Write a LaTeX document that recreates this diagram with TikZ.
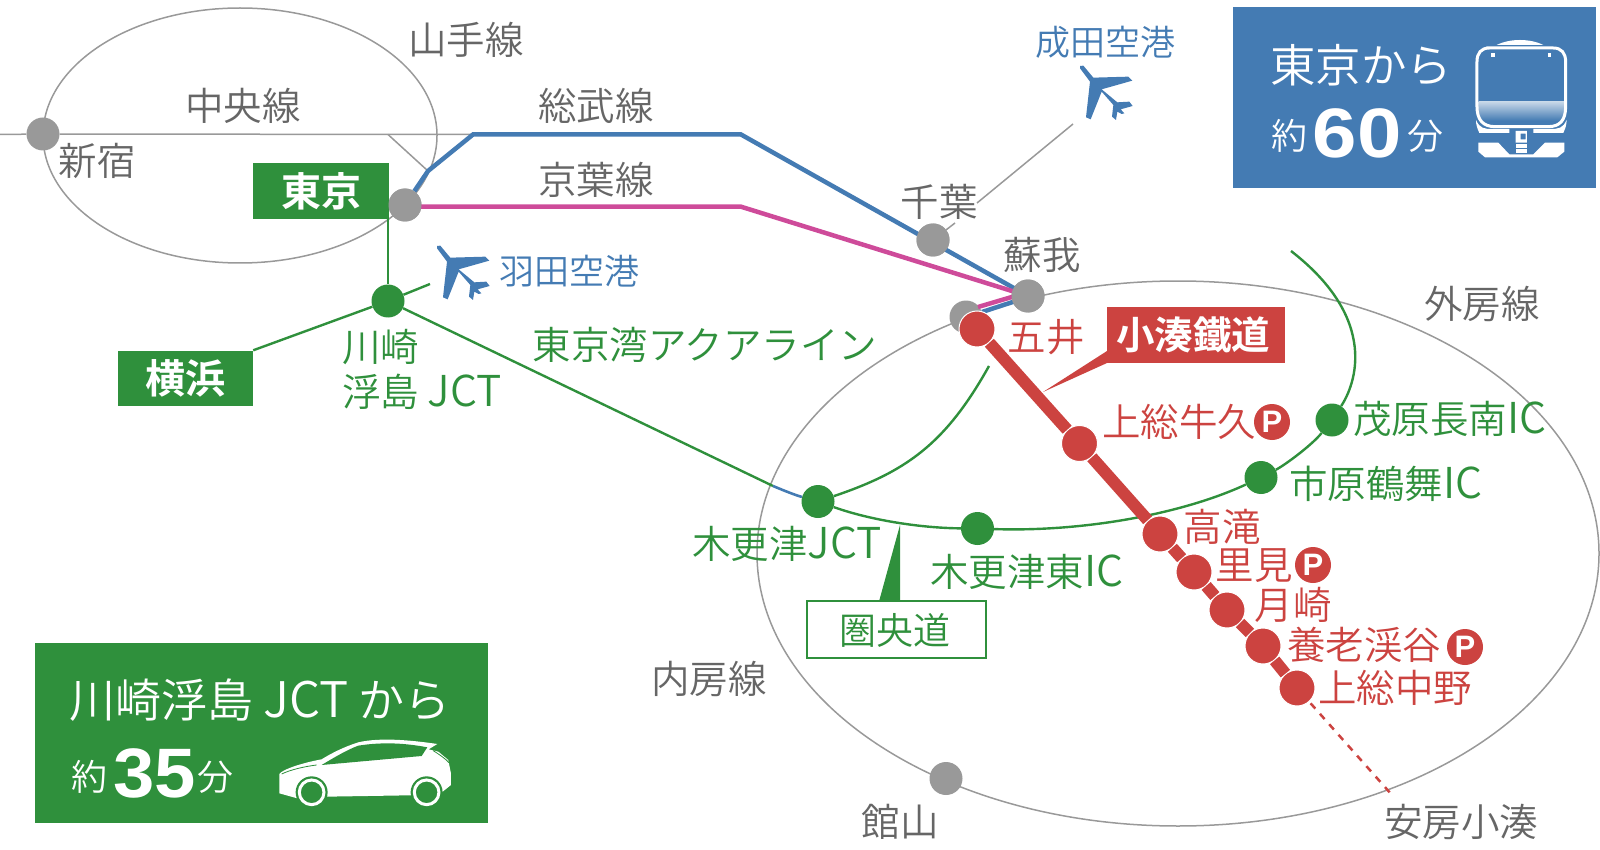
\documentclass[tikz,border=0pt]{standalone}
\usepackage{fontspec}
\newfontfamily\jp{Noto Sans CJK JP DemiLight}[BoldFont={Noto Sans CJK JP Bold}]
\newfontfamily\digits{Liberation Sans}
\newfontfamily\widedigits{Liberation Sans}[FakeStretch=1.14]
\newfontfamily\middigits{Liberation Sans}[FakeStretch=1.06]
\newcommand{\lat}[2][42.5]{{\fontsize{#1}{40}\selectfont #2}}
\definecolor{tgrey}{HTML}{666666}
\definecolor{lgrey}{HTML}{999999}
\definecolor{rblue}{HTML}{447BB3}
\definecolor{rgreen}{HTML}{2F903C}
\definecolor{rred}{HTML}{CC4340}
\definecolor{rpink}{HTML}{CE4B9A}
\tikzset{
  lab/.style={font=\jp\fontsize{38.5}{40}\selectfont,inner sep=0pt,text=tgrey},
  labgreen/.style={lab,text=rgreen},
  labred/.style={lab,text=rred},
  labblue/.style={lab,text=rblue,font=\jp\fontsize{35}{40}\selectfont},
  gstation/.style={circle,fill=lgrey,inner sep=0pt,minimum size=33pt},
  gnstation/.style={circle,fill=rgreen,inner sep=0pt,minimum size=33pt},
  rstation/.style={circle,fill=rred,draw=white,line width=1pt,inner sep=0pt,minimum size=36pt},
  pmark/.style={circle,fill=rred,text=white,inner sep=0pt,minimum size=36pt,font=\digits\bfseries\fontsize{31}{31}\selectfont},
  thin grey/.style={draw=lgrey,line width=1.5pt},
  gline/.style={draw=rgreen,line width=2.4pt},
  tag/.style={fill=rgreen,text=white,inner sep=0pt,font=\jp\bfseries\fontsize{40}{42}\selectfont},
  wtxt/.style={text=white,inner sep=0pt,font=\jp\fontsize{36}{40}\selectfont},
  bignum/.style={text=white,inner sep=0pt,font=\widedigits\bfseries\fontsize{70}{70}\selectfont},
}
\newcommand{\plane}[2]{%
\begin{scope}[shift={(#1,#2)},x=0.3333pt,y=-0.3333pt]
\fill[rblue] (150,78)--(160,77)--(190,113)--(295,110)--(307,122)--(215,148)--(262,187)--(298,185)--(308,198)--(272,208)--(283,220)--(275,222)--(262,215)--(258,240)--(246,230)--(250,195)--(215,155)--(182,238)--(168,232)--(180,125)--(150,85)--cycle;
\end{scope}}
\begin{document}
\begin{tikzpicture}[x=1pt,y=-1pt]
\useasboundingbox (0,0) rectangle (1600,850);
% ellipses
\draw[thin grey] (240,135.5) ellipse [x radius=197pt,y radius=127.5pt];
\draw[thin grey] (1178,553.5) ellipse [x radius=421pt,y radius=272.5pt];
% stations
\node[gstation] (shinjuku) at (43,134) {};
\node[gstation] (tokyo) at (405,205) {};
\node[gstation] (chiba) at (933,240) {};
\node[gstation] (goig) at (966,317) {};
\node[gstation] (tateyama) at (946,778.5) {};
\node[gnstation] (kawasaki) at (388,301) {};
\node[gnstation] (kjct) at (818,501.5) {};
\node[gnstation] (khigashi) at (977.5,528.5) {};
\node[gnstation] (ichihara) at (1261,477.5) {};
\node[gnstation] (mobara) at (1332,420) {};
% boxes
\node[tag,minimum width=136pt,minimum height=56pt] (tokyobox) at (321,191) {東京};
\node[tag,minimum width=135pt,minimum height=55pt] (yokohama) at (185.5,378) {横浜};
% free ends
\coordinate (yamaL) at (0,134.5);
\coordinate (sobuA) at (473,134.5);
\coordinate (sobuB) at (741,134.5);
\coordinate (sobuK) at (428,171);
\coordinate (yamaK) at (388,134.5);
\coordinate (keiyoB) at (741,206.7);
\coordinate (narita) at (1073,124);
\coordinate (naritaB) at (977,203);
\coordinate (chibaStub) at (955,223);
\coordinate (planestub) at (430,284);
\coordinate (aqua) at (773,486);
\coordinate (kenoEnd) at (1291,251);
\coordinate (branchEnd) at (989,366);
% grey thin lines
\draw[thin grey] (yamaL)--(shinjuku)--(sobuA);
\draw[thin grey] (yamaK)--(sobuK);
\draw[thin grey] (chiba)--(chibaStub);
\draw[thin grey] (naritaB)--(narita);
% green lines
\draw[gline] (kawasaki |- tokyobox.south)--(kawasaki);
\draw[gline] (yokohama.north east)--(kawasaki);
\draw[gline] (kawasaki)--(planestub);
\draw[gline] (kawasaki)--(aqua);
\draw[rblue,line width=2.6pt] (aqua) .. controls (785,491) and (795,495) .. (kjct);
\draw[gline] (kjct) .. controls (870,520) and (920,528) .. (khigashi)
  .. controls (1080,532) and (1180,515) .. (ichihara)
  .. controls (1285,465) and (1312,445) .. (mobara)
  .. controls (1355,385) and (1380,320) .. (kenoEnd);
\draw[gline] (kjct) .. controls (905,472) and (945,445) .. (branchEnd);
% Rail lines
\node[gstation] (soga) at (1028,296) {};
\draw[rblue,line width=4.5pt] (tokyo)--(sobuK)--(sobuA)--(sobuB)--(soga.center);
\draw[rpink,line width=4.5pt] (tokyo.center)+(0,1.7)--(keiyoB)--(soga.center);
\draw[rpink,line width=4.5pt] (soga.center)+(-6,-2)--(978,307);
\draw[rblue,line width=4.5pt] (soga.center)+(-6,3)--(982,312);
\node[gstation] at (soga) {};
\node[gstation] at (chiba) {};
\node[gstation] at (tokyo) {};
% Kominato railway
\node[rstation] (goi) at (977,329) {};
\node[rstation] (ushiku) at (1079.5,443.5) {};
\node[rstation] (takataki) at (1160,534) {};
\node[rstation] (satomi) at (1194,572) {};
\node[rstation] (tsuki) at (1227,610) {};
\node[rstation] (yoro) at (1263,646) {};
\node[rstation] (nakano) at (1297,688) {};
\coordinate (kominatoEnd) at (1392,795);
\draw[rred,line width=12pt] (goi)--(ushiku);
\draw[rred,line width=12pt] (ushiku)--(takataki);
\draw[rred,line width=12pt] (takataki)--(satomi);
\draw[rred,line width=12pt] (satomi)--(tsuki);
\draw[rred,line width=12pt] (tsuki)--(yoro);
\draw[rred,line width=12pt] (yoro)--(nakano);
\draw[rred,line width=2.5pt,dash pattern=on 7pt off 7pt,shorten <=2pt] (nakano)--(kominatoEnd);
% callouts
\fill[rgreen] (900,525)--(879,601.5)--(900,601.5)--cycle;
\node[draw=rgreen,line width=2pt,fill=white,minimum width=179pt,minimum height=57pt,inner sep=0pt] (keno) at (896.5,629.5) {};
\node[labgreen,font=\jp\fontsize{37}{40}\selectfont] (kenotext) at (895,630) {圏央道};
\fill[rred] (1043,392)--(1107,351)--(1107,363)--cycle;
\node[fill=rred,text=white,inner sep=0pt,minimum width=178pt,minimum height=56pt,font=\jp\bfseries\fontsize{38.5}{40}\selectfont] (kominato) at (1196,335) {\hspace*{-6pt}小湊鐵道};
% labels
\node[lab] (l1) at (466,40) {山手線};
\node[lab] (l2) at (243,106) {中央線};
\node[lab] (l3) at (97,161) {新宿};
\node[lab] (l4) at (596,106) {総武線};
\node[lab] (l5) at (596,180) {京葉線};
\node[lab] (l6) at (939,202) {千葉};
\node[lab] (l7) at (1042,255) {蘇我};
\node[lab] (l8) at (1482,304) {外房線};
\node[lab] (l9) at (709,679) {内房線};
\node[lab] (l10) at (900,822) {館山};
\node[lab] (l11) at (1461,822) {安房小湊};
\node[labblue] (l12) at (1105,42) {成田空港};
\node[labblue] (l13) at (569,271) {羽田空港};
\node[labgreen,anchor=west] (l14) at (342,347) {川崎};
\node[labgreen,anchor=west] (l15) at (342,392) {浮島 \lat{JCT}};
\node[labgreen] (l16) at (705,345) {東京湾アクアライン};
\node[labgreen] (l17) at (1450,419) {茂原長南\lat{IC}};
\node[labgreen] (l18) at (1386,484) {市原鶴舞\lat{IC}};
\node[labgreen] (l19) at (787,544) {木更津\lat{JCT}};
\node[labgreen] (l20) at (1027,572) {木更津東\lat{IC}};
\node[labred] (l21) at (1046,337) {五井};
\node[labred] (l22) at (1179,422) {上総牛久};
\node[labred] (l23) at (1222,527) {高滝};
\node[labred] (l24) at (1254,566) {里見};
\node[labred] (l25) at (1293,605) {月崎};
\node[labred] (l26) at (1364,645) {養老渓谷};
\node[labred] (l27) at (1395,688) {上総中野};
\node[pmark] (p1) at (1272,422) {P};
\node[pmark] (p2) at (1313,565) {P};
\node[pmark] (p3) at (1465,647) {P};
\plane{1030}{40}
\plane{387}{220}
% blue box
\node[fill=rblue,inner sep=0pt,minimum width=363pt,minimum height=181pt] (bluebox) at (1414.5,97.5) {};
\node[wtxt,font=\jp\fontsize{45.5}{48}\selectfont] (b1) at (1361,65) {東京から};
\node[wtxt] (b2) at (1289,136) {約};
\node[bignum] (b3) at (1357,133) {60};
\node[wtxt] (b4) at (1425,136) {分};
\begin{scope}[shift={(1220,0)},x=0.3333pt,y=-0.3333pt]
\fill[white] (830,135) .. controls (870,115) and (930,115) .. (970,135) -- cycle;
\shade[top color=white!70!rblue,bottom color=rblue] (776,305) rectangle (1032,362);
\draw[white,line width=3pt] (800,144) -- (1000,144) .. controls (1025,144) and (1037,160) .. (1037,185) -- (1037,320) .. controls (1037,360) and (1020,380) .. (985,380) -- (825,380) .. controls (790,380) and (771,360) .. (771,320) -- (771,185) .. controls (771,160) and (783,144) .. (808,144) -- cycle;
\fill[white] (813,159) rectangle (824,171);
\fill[white] (983,159) rectangle (994,171);
\fill[white] (768,360) .. controls (780,385) and (790,387) .. (820,387) -- (868,387) -- (868,399) -- (778,399) .. controls (772,385) and (768,375) .. (768,360) -- cycle;
\fill[white] (1040,360) .. controls (1028,385) and (1018,387) .. (988,387) -- (940,387) -- (940,399) -- (1030,399) .. controls (1036,385) and (1040,375) .. (1040,360) -- cycle;
\fill[white,even odd rule] (887,393) rectangle (921,428) (902,401) rectangle (917,418);
\fill[white] (887,432) rectangle (921,443);
\fill[white] (887,447) rectangle (921,460);
\fill[white] (775,428)--(835,428)--(868,463)--(940,463)--(975,428)--(1033,428)--(1033,455)--(1012,472)--(795,472)--(775,455)--cycle;
\end{scope}
% green box
\node[fill=rgreen,inner sep=0pt,minimum width=453pt,minimum height=180pt] (greenbox) at (261.5,733) {};
\node[wtxt,font=\jp\fontsize{46}{48}\selectfont] (g1) at (260,700) {川崎浮島 \lat[49]{JCT} から};
\node[wtxt] (g2) at (89,777) {約};
\node[bignum,font=\middigits\bfseries\fontsize{70}{70}\selectfont] (g3) at (154.5,773) {35};
\node[wtxt] (g4) at (215,777) {分};
\begin{scope}[shift={(20,630)},x=0.3333pt,y=-0.3333pt]
\fill[white] (778,490) -- (778,432) .. controls (785,420) and (840,400) .. (905,388) .. controls (950,360) and (990,345) .. (1015,337) .. controls (1080,322) and (1170,330) .. (1252,342) -- (1226,358) -- (1255,365) -- (1285,390) -- (1293,430) -- (1293,465) -- (1262,490) -- (1170,496) -- (922,500) -- (832,505) -- cycle;
\fill[rgreen] (905,405) .. controls (950,378) and (985,358) .. (1015,347) .. controls (1090,335) and (1160,340) .. (1222,352) -- (1205,378) -- cycle;
\draw[rgreen,line width=0.8pt] (785,432) .. controls (810,420) and (850,410) .. (890,405);
\draw[rgreen,line width=0.8pt] (1240,362) .. controls (1260,375) and (1275,385) .. (1287,398);
\fill[rgreen] (875,487) circle [radius=48];
\fill[rgreen] (1220,487) circle [radius=48];
\draw[white,line width=3pt] (875,487) circle [radius=37];
\draw[white,line width=3pt] (1220,487) circle [radius=37];
\end{scope}
\end{tikzpicture}
\end{document}
